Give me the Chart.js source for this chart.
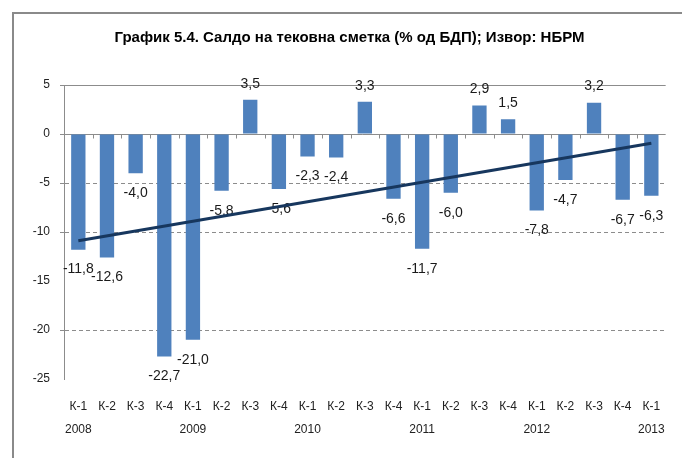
<!DOCTYPE html>
<html><head><meta charset="utf-8">
<script src="https://cdn.jsdelivr.net/npm/chart.js@4.4.0/dist/chart.umd.min.js"></script>
<style>
html,body{margin:0;padding:0;background:#fff;}
#wrap{position:relative;width:682px;height:458px;overflow:hidden;background:#fff;}
#frame{position:absolute;left:12px;top:12px;width:720px;height:520px;border-left:2px solid #8a8a8a;border-top:2px solid #8a8a8a;}
canvas{position:absolute;left:0;top:0;}
</style></head><body>
<div id="wrap"><div id="frame"></div><canvas id="c" width="682" height="458"></canvas></div>
<script>
const titleText = "График 5.4. Салдо на тековна сметка (% од БДП); Извор: НБРМ";
const quarters = ["К-1","К-2","К-3","К-4","К-1","К-2","К-3","К-4","К-1","К-2","К-3","К-4","К-1","К-2","К-3","К-4","К-1","К-2","К-3","К-4","К-1"];
const years = ["2008","","","","2009","","","","2010","","","","2011","","","","2012","","","","2013"];
const balance = [-11.8,-12.6,-4.0,-22.7,-21.0,-5.8,3.5,-5.6,-2.3,-2.4,3.3,-6.6,-11.7,-6.0,2.9,1.5,-7.8,-4.7,3.2,-6.7,-6.3];
const trendStart = -10.9;
const trendEnd = -0.95;
const yTicks = [5,0,-5,-10,-15,-20,-25];
const dashedGridValues = [-5,-10,-20];
const hiddenTickValues = [-15,-25];

const labels = quarters.map((q,i)=>[q, years[i]]);
const trend = balance.map((v,i)=> i===0 ? trendStart : (i===balance.length-1 ? trendEnd : null));

const GRAY = '#8c8c8c';
const FONT = 'Arial, "Liberation Sans", sans-serif';

const axisLines = {
  id:'axisLines',
  beforeDatasetsDraw(chart){
    const {ctx, scales:{x,y}, chartArea:a} = chart;
    ctx.save();
    ctx.strokeStyle = GRAY; ctx.lineWidth = 1;
    const yTop = Math.round(y.getPixelForValue(yTicks[0])) + 0.5;
    const y0 = Math.round(y.getPixelForValue(0)) + 0.5;
    ctx.beginPath();
    ctx.moveTo(a.left-4, yTop); ctx.lineTo(a.right, yTop);
    ctx.moveTo(a.left-4, y0); ctx.lineTo(a.right, y0);
    const w = x.getPixelForValue(1) - x.getPixelForValue(0);
    const start = x.getPixelForValue(0) - w/2;
    for (let i=1;i<balance.length;i++){
      const xb = Math.round(start + i*w) + 0.5;
      ctx.moveTo(xb, y0); ctx.lineTo(xb, y0+4);
    }
    ctx.stroke();
    ctx.restore();
  }
};

const barLabels = {
  id:'barLabels',
  afterDatasetDraw(chart, args){
    if (chart.data.datasets[args.index].type !== 'bar') return;
    const {ctx} = chart;
    ctx.save();
    ctx.font = '14px ' + FONT;
    ctx.fillStyle = '#1a1a1a';
    ctx.textAlign = 'center';
    ctx.textBaseline = 'middle';
    args.meta.data.forEach((el,i)=>{
      const v = balance[i];
      const txt = v.toFixed(1).replace('.', ',');
      const yy = v < 0 ? el.y + 20 : el.y - 16;
      ctx.fillText(txt, el.x, yy);
    });
    ctx.restore();
  }
};

new Chart(document.getElementById('c'), {
  data: {
    labels: labels,
    datasets: [
      { type:'bar', data: balance, backgroundColor:'#4F81BD', barPercentage:0.5, categoryPercentage:1.0, order:1 },
      { type:'line', data: trend, spanGaps:true, borderColor:'#17375E', borderWidth:3, pointRadius:0, fill:false, order:0 }
    ]
  },
  options: {
    responsive:false, animation:false, devicePixelRatio:1,
    layout:{padding:{left:30,right:13,top:0,bottom:0}},
    plugins:{
      legend:{display:false}, tooltip:{enabled:false},
      title:{display:true, text:titleText, color:'#000', font:{family:FONT,size:15,weight:'bold'}, padding:{top:29,bottom:38}}
    },
    scales:{
      x:{
        grid:{display:false, drawTicks:false},
        border:{display:false},
        ticks:{font:{family:FONT,size:12,lineHeight:1.85}, color:'#222', padding:17, maxRotation:0, autoSkip:false},
        afterFit(s){ s.height = 79; }
      },
      y:{
        min:-25, max:5,
        afterBuildTicks(s){ s.ticks = yTicks.map(v=>({value:v})); },
        ticks:{font:{family:FONT,size:12}, color:'#222', padding:10},
        grid:{
          color: c => dashedGridValues.includes(c.tick && c.tick.value) ? GRAY : 'rgba(0,0,0,0)',
          tickColor: c => hiddenTickValues.includes(c.tick && c.tick.value) ? 'rgba(0,0,0,0)' : GRAY,
          tickLength:4, drawTicks:true
        },
        border:{display:true, color:GRAY, dash:[4,3]},
        afterFit(s){ s.width = 34; }
      }
    }
  },
  plugins:[axisLines, barLabels]
});
</script>
</body></html>
